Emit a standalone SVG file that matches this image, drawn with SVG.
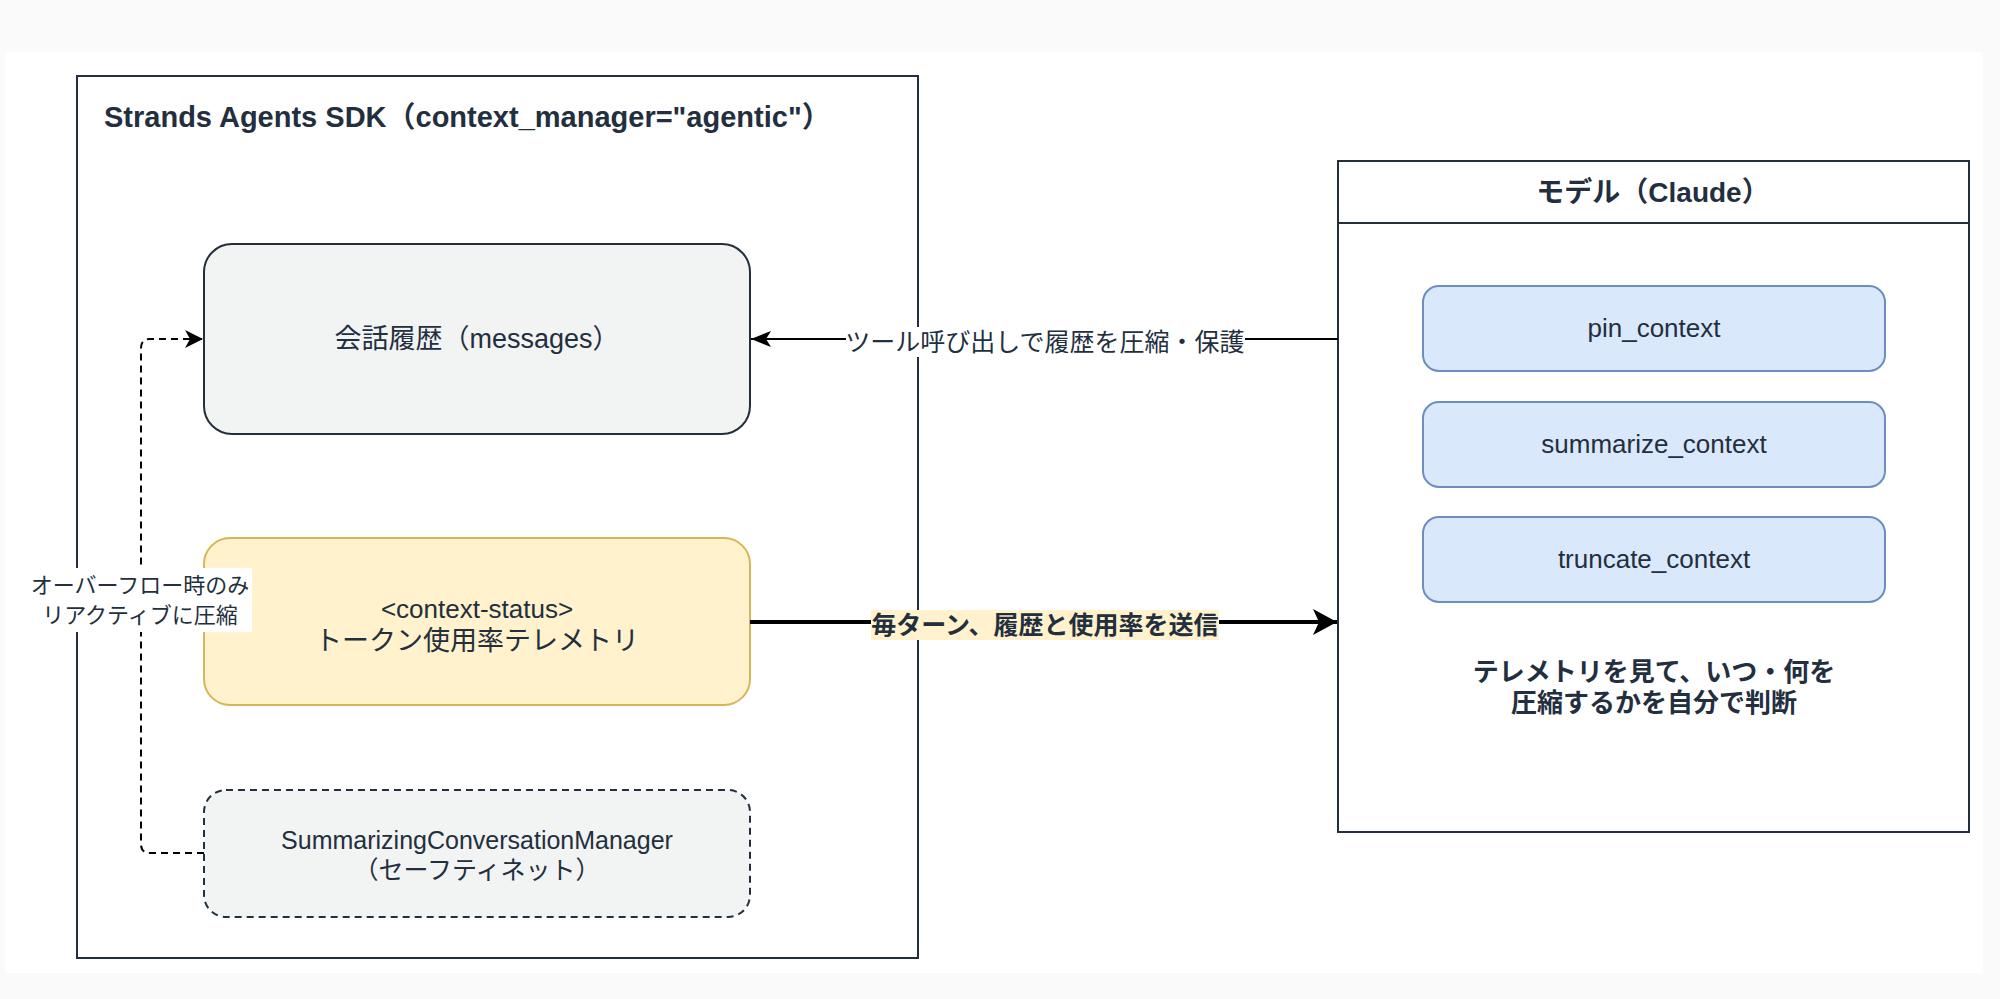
<svg xmlns="http://www.w3.org/2000/svg" width="2000" height="999" viewBox="0 0 2000 999">
<style>
text{font-family:"Liberation Sans","Noto Sans CJK JP",sans-serif;fill:#232F3E;}
.t{font-size:26px;text-anchor:middle;}
.b{font-weight:bold;}
.frame{fill:#FFFFFF;stroke:#232F3E;stroke-width:2;}
.gray{fill:#F2F3F3;stroke:#232F3E;stroke-width:2;}
.yel{fill:#FFF2CC;stroke:#D6B656;stroke-width:2;}
.blue{fill:#DAE8FC;stroke:#6C8EBF;stroke-width:2;}
.dash{stroke-dasharray:7 5;}
.edge{fill:none;stroke:#000000;}
</style>
<defs>
<marker id="arrThin" viewBox="0 0 20 16" refX="20" refY="8" markerWidth="20" markerHeight="16" markerUnits="userSpaceOnUse" orient="auto">
<path d="M0,0 L20,8 L0,16 L5,8 Z" fill="#000"/>
</marker>
<marker id="arrBold" viewBox="0 0 24 26" refX="24" refY="13" markerWidth="24" markerHeight="26" markerUnits="userSpaceOnUse" orient="auto">
<path d="M0,0 L24,13 L0,26 L6,13 Z" fill="#000"/>
</marker>
<marker id="arrDash" viewBox="0 0 18 18" refX="18" refY="9" markerWidth="18" markerHeight="18" markerUnits="userSpaceOnUse" orient="auto">
<path d="M0,0 L18,9 L0,18 L5,9 Z" fill="#000"/>
</marker>
</defs>
<rect x="0" y="0" width="2000" height="999" fill="#FAFAFB"/>
<rect x="5" y="52" width="1978" height="921" fill="#FFFFFF"/>

<g id="sdk">
<rect class="frame" x="77" y="76" width="841" height="882"/>
<text x="104" y="127" class="b" style="font-size:29px">Strands Agents SDK（context_manager="agentic"）</text>
</g>

<g id="messages">
<rect class="gray" x="204" y="244" width="546" height="190" rx="28" ry="28"/>
<text class="t" x="477" y="348" style="font-size:27px">会話履歴（messages）</text>
</g>

<g id="context-status">
<rect class="yel" x="204" y="538" width="546" height="167" rx="26" ry="26"/>
<text class="t" x="477" y="618">&lt;context-status&gt;</text>
<text class="t" x="477" y="650" style="font-size:27px">トークン使用率テレメトリ</text>
</g>

<g id="summarizing">
<rect class="gray dash" x="204" y="790" width="546" height="127" rx="22" ry="22"/>
<text class="t" x="477" y="849" style="font-size:25px">SummarizingConversationManager</text>
<text class="t" x="477" y="879" style="font-size:25px">（セーフティネット）</text>
</g>

<g id="model">
<rect class="frame" x="1338" y="161" width="631" height="671"/>
<line x1="1338" y1="223" x2="1969" y2="223" stroke="#232F3E" stroke-width="2"/>
<text class="t b" x="1653" y="202" style="font-size:28px">モデル（Claude）</text>
<text class="t b" x="1654" y="681" style="font-size:26px">テレメトリを見て、いつ・何を</text>
<text class="t b" x="1654" y="712" style="font-size:26px">圧縮するかを自分で判断</text>
</g>

<g id="pin_context">
<rect class="blue" x="1423" y="286" width="462" height="85" rx="16" ry="16"/>
<text class="t" x="1654" y="337">pin_context</text>
</g>

<g id="summarize_context">
<rect class="blue" x="1423" y="402" width="462" height="85" rx="16" ry="16"/>
<text class="t" x="1654" y="453">summarize_context</text>
</g>

<g id="truncate_context">
<rect class="blue" x="1423" y="517" width="462" height="85" rx="16" ry="16"/>
<text class="t" x="1654" y="568">truncate_context</text>
</g>

<g id="connectors">
<path class="edge" d="M1338,339 L751,339" stroke-width="2" marker-end="url(#arrThin)"/>
<rect x="846" y="327" width="399" height="30" fill="#FFFFFF"/>
<text class="t" x="1045" y="351" style="font-size:25px">ツール呼び出しで履歴を圧縮・保護</text>

<path class="edge" d="M750,622 L1337,622" stroke-width="4" marker-end="url(#arrBold)"/>
<rect x="871" y="610" width="348" height="30" fill="#FFF2CC"/>
<text class="t b" x="1045" y="634" style="font-size:25px">毎ターン、履歴と使用率を送信</text>

<path class="edge dash" d="M204,853 L150,853 Q141,853 141,844 L141,348 Q141,339 150,339 L203,339" stroke-width="2" marker-end="url(#arrDash)"/>
<rect x="28" y="568" width="224" height="64" fill="#FFFFFF"/>
<text class="t" x="140" y="593" style="font-size:22px">オーバーフロー時のみ</text>
<text class="t" x="140" y="623" style="font-size:22px">リアクティブに圧縮</text>
</g>
</svg>
